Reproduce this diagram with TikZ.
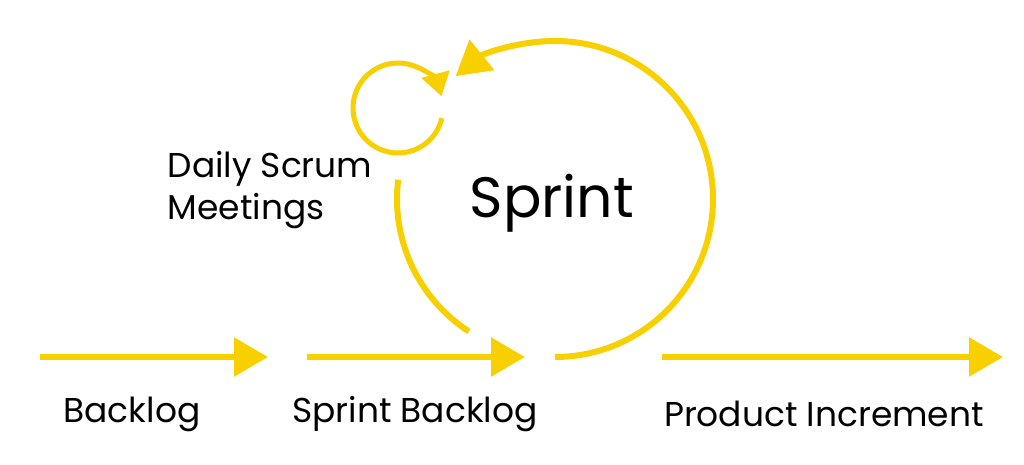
\documentclass[tikz,border=0pt]{standalone}
\usepackage{fontspec}
\setmainfont{Poppins}
\usetikzlibrary{arrows.meta,positioning}
\definecolor{scrumyellow}{RGB}{248,208,0}

\begin{document}
\begin{tikzpicture}
\tikzstyle{flow} = [line width=0.06cm, draw=scrumyellow, -{Triangle[length=0.34cm,width=0.38cm]}]
\tikzstyle{loop} = [line width=0.06cm, draw=scrumyellow]
\tikzstyle{daily} = [line width=0.05cm, draw=scrumyellow, -{Triangle[length=0.23cm,width=0.28cm]}]
\tikzstyle{label} = [inner sep=0, font=\fontsize{9.8}{11.8}\selectfont]

\useasboundingbox (0,0) rectangle (10.24,4.65);

% flow along the bottom
\coordinate (backlog start) at (0.40,1.08);
\coordinate (backlog end) at (2.68,1.08);
\coordinate (sprintbacklog start) at (3.07,1.08);
\coordinate (sprintbacklog end) at (5.25,1.08);
\coordinate (increment start) at (6.62,1.08);
\coordinate (increment end) at (10.03,1.08);

\draw [flow] (backlog start) -- (backlog end);
\draw [flow] (sprintbacklog start) -- (sprintbacklog end);
\draw [flow] (increment start) -- (increment end);

\node (backlog) [label] at (1.32,0.51) {Backlog};
\node (sprintbacklog) [label] at (4.15,0.51) {Sprint Backlog};
\node (increment) [label] at (8.24,0.51) {Product Increment};

% sprint cycle
\coordinate (sprint centre) at (5.55,2.66);
\draw [loop, -{Triangle[length=0.34cm,width=0.38cm]}] ([shift={(-90:1.58)}]sprint centre) arc[start angle=-90, end angle=129, radius=1.58];
\draw [loop] ([shift={(173:1.58)}]sprint centre) arc[start angle=173, end angle=237, radius=1.58];

\node (sprint) [inner sep=0, font=\fontsize{16.2}{19}\selectfont] at (5.52,2.62) {Sprint};

% daily scrum
\coordinate (daily centre) at (3.98,3.57);
\draw [daily] ([shift={(-13:0.45)}]daily centre) arc[start angle=-13, end angle=-345, radius=0.45];

\node (meetings) [label, anchor=west, align=left] at (1.67,2.75) {Daily Scrum\\Meetings};

\end{tikzpicture}
\end{document}
